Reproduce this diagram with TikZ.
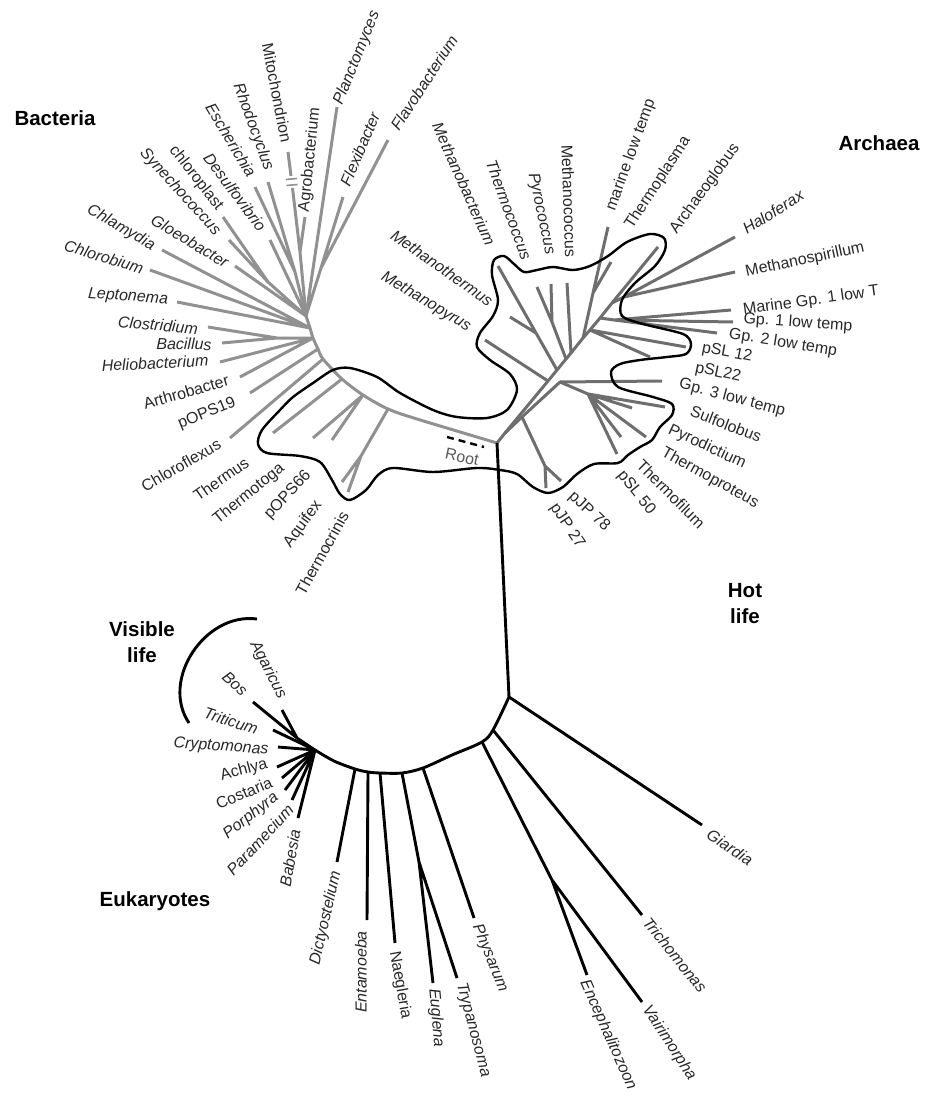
\documentclass[tikz,border=0pt]{standalone}
\usepackage{fontspec}
\setmainfont{Liberation Sans}
\usepackage{xcolor}
\usepackage{tikz}

\definecolor{bacgray}{RGB}{145,145,145}
\definecolor{arcgray}{RGB}{110,110,110}
\definecolor{labgray}{RGB}{40,40,40}

\begin{document}
\begin{tikzpicture}[
  x=1pt, y=-1pt,
  line join=round,
  every node/.style={inner sep=0pt, text=labgray, font=\fontsize{16}{18}\selectfont},
  it/.style={font=\fontsize{16}{18}\selectfont\itshape},
  bac/.style={draw=bacgray, line width=3pt},
  arch/.style={draw=arcgray, line width=3pt},
  euk/.style={draw=black, line width=2.9pt},
  lobe/.style={draw=black, line width=2.4pt},
  grp/.style={font=\fontsize{20.5}{26}\selectfont\bfseries, text=black, align=center}
]
  \useasboundingbox (0,0) rectangle (927,1115);

  % Root and trunk to the eukaryotes
  \coordinate (root) at (497,443);
  \coordinate (e0)   at (509,697);

  % Bacterial backbone
  \coordinate (b1) at (417,419);
  \coordinate (b2) at (388,409);
  \coordinate (b3) at (363,395);
  \coordinate (b4) at (342,379);
  \coordinate (b5) at (323,359);
  \coordinate (b6) at (318,349);
  \coordinate (b7) at (313,338);
  \coordinate (b8) at (310,328);
  \coordinate (btop) at (306,316);

  % Bacterial tips and forks
  \coordinate (tMito)  at (288,152);
  \coordinate (mito1)  at (291,176);
  \coordinate (mito2)  at (292.5,188);
  \coordinate (mbar1a) at (286,179.5);
  \coordinate (mbar1b) at (297,178.5);
  \coordinate (mbar2a) at (286.5,185.5);
  \coordinate (mbar2b) at (297.5,184.5);
  \coordinate (tAgro)  at (305,217);
  \coordinate (aj)     at (300,252);
  \coordinate (tRhodo) at (268,182);
  \coordinate (tEsch)  at (255,187);
  \coordinate (pj)     at (295,272);
  \coordinate (tDesulf) at (270,240);
  \coordinate (tChlpl) at (223,217);
  \coordinate (tSyn)   at (229,240);
  \coordinate (cj)     at (268,282);
  \coordinate (tGloeo) at (235,266);
  \coordinate (tChlam) at (162,250);
  \coordinate (tChlor) at (150,270);
  \coordinate (tLepto) at (177,302);
  \coordinate (tClost) at (208,327);
  \coordinate (tBacil) at (222,343);
  \coordinate (fj)     at (277,338);
  \coordinate (tHelio) at (220,362);
  \coordinate (tArthro) at (240,377);
  \coordinate (tPOPS19) at (250,393);
  \coordinate (tChlfx) at (230,438);
  \coordinate (tThermus) at (273,433);
  \coordinate (tTtoga) at (313,438);
  \coordinate (tPOPS66) at (332,440);
  \coordinate (aqj)    at (361,456);
  \coordinate (tAquif) at (342,482);
  \coordinate (tTcrin) at (348,492);
  \coordinate (tPlanc) at (337,107);
  \coordinate (tFlexi) at (343,197);
  \coordinate (tFlavo) at (388,140);
  \coordinate (fbj)    at (321,268);

  % Archaeal backbone
  \coordinate (a0) at (505,433);
  \coordinate (a2) at (548,381);
  \coordinate (a3) at (557,370);
  \coordinate (a4) at (566,359);
  \coordinate (a5) at (571,353);
  \coordinate (a6) at (583,338);
  \coordinate (a7) at (590,330);
  \coordinate (a8) at (600,318);
  \coordinate (a9) at (612,303);
  \coordinate (tAgb) at (658,247);

  % Archaeal tips and forks
  \coordinate (cs)     at (560,382);
  \coordinate (cs1)    at (522,417);
  \coordinate (pjj)    at (545,466);
  \coordinate (tPJP27) at (546,488);
  \coordinate (tPJP78) at (561,481);
  \coordinate (tMpyr)  at (485,340);
  \coordinate (tMbac)  at (498,266);
  \coordinate (mtj)    at (536,333);
  \coordinate (tMthm)  at (510,317);
  \coordinate (tcj)    at (552,322);
  \coordinate (tTcoc)  at (537,287);
  \coordinate (tPcoc)  at (551,284);
  \coordinate (tMcoc)  at (567,283);
  \coordinate (tMlt)   at (608,227);
  \coordinate (tpj)    at (593,293);
  \coordinate (tTpl)   at (611,262);
  \coordinate (tPSL12) at (686,347);
  \coordinate (tPSL22) at (650,357);
  \coordinate (gj)     at (614,320);
  \coordinate (tMG1)   at (731,310);
  \coordinate (tG1)    at (733,322);
  \coordinate (tG2)    at (717,333);
  \coordinate (hj)     at (624,297);
  \coordinate (tHalo)  at (735,237);
  \coordinate (tMspir) at (735,272);
  \coordinate (tGp3)   at (662,381);
  \coordinate (c1)     at (588,394);
  \coordinate (tSulf)  at (665,407);
  \coordinate (tPyrd)  at (632,408);
  \coordinate (tTprot) at (646,437);
  \coordinate (tTfil)  at (621,437);
  \coordinate (tPSL50) at (617,454);

  % Eukaryotic backbone
  \coordinate (e1) at (493,730);
  \coordinate (e2) at (482,742);
  \coordinate (e3) at (452,755);
  \coordinate (e4) at (423,768);
  \coordinate (e5) at (402,773);
  \coordinate (e6) at (380,773);
  \coordinate (e7) at (368,772);
  \coordinate (e8) at (355,769);
  \coordinate (e9) at (334,761);
  \coordinate (ehub) at (315,750);

  % Eukaryotic tips and forks
  \coordinate (tGiar)  at (702,825);
  \coordinate (tTrich) at (642,915);
  \coordinate (mj)     at (552,880);
  \coordinate (tEnc)   at (587,975);
  \coordinate (tVair)  at (642,1002);
  \coordinate (tPhys)  at (474,918);
  \coordinate (ej)     at (419,862);
  \coordinate (tEugl)  at (433,983);
  \coordinate (tTryp)  at (457,978);
  \coordinate (tNaeg)  at (395,943);
  \coordinate (tEnta)  at (367,920);
  \coordinate (tDicty) at (337,862);
  \coordinate (vj)     at (297,738);
  \coordinate (tBos)   at (253,702);
  \coordinate (tAgar)  at (282,710);
  \coordinate (tTrit)  at (273,730);
  \coordinate (tCrypt) at (278,747);
  \coordinate (tAchl)  at (277,767);
  \coordinate (tCost)  at (282,778);
  \coordinate (tPorph) at (285,790);
  \coordinate (tParam) at (292,800);
  \coordinate (tBabes) at (298,818);

  % Visible life bracket and root marker
  \coordinate (va1) at (257,619);
  \coordinate (vc1) at (205,612);
  \coordinate (vc2) at (160,680);
  \coordinate (va2) at (189,723);
  \coordinate (rd1) at (447,437);
  \coordinate (rd2) at (484,447);

  % Bacteria (light gray)
  \draw[bac] plot[smooth] coordinates {(root) (b1) (b2) (b3) (b4) (b5) (b6) (b7) (b8) (btop)};
  \draw[bac] (b2) -- (aqj) (aqj) -- (tAquif) (aqj) -- (tTcrin);
  \draw[bac] (b3) -- (tTtoga) (b3) -- (tPOPS66);
  \draw[bac] (b4) -- (tThermus);
  \draw[bac] (b5) -- (tChlfx);
  \draw[bac] (b6) -- (tPOPS19);
  \draw[bac] (b7) -- (tArthro) (b7) -- (tHelio) (b7) -- (fj) (fj) -- (tClost) (fj) -- (tBacil);
  \draw[bac] (b8) -- (tLepto) (b8) -- (tChlor) (b8) -- (tChlam);
  \draw[bac] (btop) -- (tGloeo) (btop) -- (cj) (cj) -- (tChlpl) (cj) -- (tSyn);
  \draw[bac] (btop) -- (tDesulf) (btop) -- (pj) (pj) -- (tEsch) (pj) -- (tRhodo);
  \draw[bac] (btop) -- (aj) (aj) -- (tAgro) (aj) -- (mito2) (mito1) -- (tMito);
  \draw[bac, line width=1.6pt] (mbar1a) -- (mbar1b) (mbar2a) -- (mbar2b);
  \draw[bac] (btop) -- (tPlanc) (btop) -- (fbj) (fbj) -- (tFlexi) (fbj) -- (tFlavo);

  % Archaea (darker gray)
  \draw[arch] (root) -- (a0) -- (a2) -- (a3) -- (a4) -- (a5) -- (a6) -- (a7) -- (a8) -- (a9) -- (tAgb);
  \draw[arch] (a0) -- (cs1) -- (cs) -- (c1);
  \draw[arch] (cs1) -- (pjj) (pjj) -- (tPJP27) (pjj) -- (tPJP78);
  \draw[arch] (cs) -- (tGp3);
  \draw[arch] (c1) -- (tSulf) (c1) -- (tPyrd) (c1) -- (tTprot) (c1) -- (tTfil) (c1) -- (tPSL50);
  \draw[arch] (a2) -- (tMpyr);
  \draw[arch] (a3) -- (mtj) -- (tMbac) (mtj) -- (tMthm);
  \draw[arch] (a4) -- (tcj) (tcj) -- (tTcoc) (tcj) -- (tPcoc);
  \draw[arch] (a5) -- (tMcoc);
  \draw[arch] (a6) -- (tpj) -- (tMlt) (tpj) -- (tTpl);
  \draw[arch] (a7) -- (tPSL12) (a7) -- (tPSL22);
  \draw[arch] (a8) -- (gj) (gj) -- (tMG1) (gj) -- (tG1) (gj) -- (tG2);
  \draw[arch] (a9) -- (hj) (hj) -- (tHalo) (hj) -- (tMspir);

  % Trunk and eukaryotes (black)
  \draw[euk] (root) -- (e0);
  \draw[euk] plot[smooth] coordinates {(e0) (e1) (e2) (e3) (e4) (e5) (e6) (e7) (e8) (e9) (ehub)};
  \draw[euk] (e0) -- (tGiar);
  \draw[euk] (e1) -- (tTrich);
  \draw[euk] (e2) -- (mj) (mj) -- (tEnc) (mj) -- (tVair);
  \draw[euk] (e4) -- (tPhys);
  \draw[euk] (e5) -- (ej) (ej) -- (tEugl) (ej) -- (tTryp);
  \draw[euk] (e6) -- (tNaeg);
  \draw[euk] (e7) -- (tEnta);
  \draw[euk] (e8) -- (tDicty);
  \draw[euk] (ehub) -- (vj) (vj) -- (tBos) (vj) -- (tAgar);
  \draw[euk] (ehub) -- (tTrit) (ehub) -- (tCrypt) (ehub) -- (tAchl) (ehub) -- (tCost);
  \draw[euk] (ehub) -- (tPorph) (ehub) -- (tParam) (ehub) -- (tBabes);
  \draw[euk] (va1) .. controls (vc1) and (vc2) .. (va2);

  % Hot life outline
  \draw[lobe] plot[smooth cycle] coordinates {
    (313,383) (333,370) (350,368) (377,377) (400,393) (433,410) (457,417)
    (487,418) (507,410) (517,390) (510,374) (490,360) (477,347) (480,333)
    (493,316) (498,300) (492,275) (494,260) (504,256) (514,264) (524,272)
    (537,270) (553,267) (573,270) (590,266) (608,256) (627,242) (650,234)
    (664,238) (665,250) (655,266) (635,283) (622,300) (622,316) (643,324)
    (683,334) (691,344) (686,354) (667,357) (640,360) (620,364) (611,372)
    (618,387) (653,397) (672,404) (672,415) (660,427) (652,440) (640,447)
    (628,455) (618,463) (594,464) (577,474) (563,487) (548,493) (533,487)
    (517,474) (500,470) (477,468) (433,472) (393,468) (378,475) (366,490)
    (350,500) (340,494) (332,480) (320,462) (300,456) (267,453) (258,444)
    (262,430) (280,410) (293,397)};

  % Root
  \draw[black, line width=2.4pt, dash pattern=on 7pt off 5pt] (rd1) -- (rd2);
  \node[rotate=-12, text=black!65] (lRoot) at (462,457) {Root};

  % Group labels
  \node[grp] (lBact) at (55,118) {Bacteria};
  \node[grp] (lArch) at (879,143) {Archaea};
  \node[grp] (lHot)  at (745,604) {Hot\\life};
  \node[grp] (lVis)  at (142,642) {Visible\\life};
  \node[grp] (lEuk)  at (155,901) {Eukaryotes};

  % Bacteria labels
  \node[rotate=-79] (lMito) at (277,93) {Mitochondrion};
  \node[it, rotate=-70] (lRhodo) at (253,127) {Rhodocyclus};
  \node[it, rotate=-59] (lEsch) at (231,140) {Escherichia};
  \node[it, rotate=-53] (lDesulf) at (235,192) {Desulfovibrio};
  \node[rotate=-52] (lChlpl) at (196,178) {chloroplast};
  \node[it, rotate=-48] (lSyn) at (180,192) {Synechococcus};
  \node[it, rotate=-31] (lGloeo) at (190,241) {Gloeobacter};
  \node[it, rotate=-30] (lChlam) at (121,228) {Chlamydia};
  \node[it, rotate=-17] (lChlor) at (104,257) {Chlorobium};
  \node[it, rotate=-4] (lLepto) at (128,297) {Leptonema};
  \node[it, rotate=-5] (lClost) at (158,325) {Clostridium};
  \node[it, rotate=-1] (lBacil) at (184,344) {Bacillus};
  \node[it, rotate=3] (lHelio) at (155,363) {Heliobacterium};
  \node[rotate=16] (lArthro) at (186,392) {Arthrobacter};
  \node[rotate=22] (lPOPS19) at (207,414) {pOPS19};
  \node[rotate=30] (lChlfx) at (181,465) {Chloroflexus};
  \node[rotate=35] (lThermus) at (221,479) {Thermus};
  \node[rotate=39] (lTtoga) at (249,494) {Thermotoga};
  \node[rotate=47] (lPOPS66) at (288,495) {pOPS66};
  \node[rotate=54] (lAquif) at (303,524) {Aquifex};
  \node[rotate=61] (lTcrin) at (322,553) {Thermocrinis};
  \node[rotate=84] (lAgro) at (310,160) {Agrobacterium};
  \node[it, rotate=68] (lPlanc) at (357,58) {Planctomyces};
  \node[it, rotate=67] (lFlexi) at (360,149) {Flexibacter};
  \node[it, rotate=57] (lFlavo) at (424,83) {Flavobacterium};

  % Archaea labels
  \node[it, rotate=-66] (lMbac) at (464,184) {Methanobacterium};
  \node[it, rotate=-70] (lTcoc) at (509,210) {Thermococcus};
  \node[it, rotate=-78] (lPcoc) at (541,214) {Pyrococcus};
  \node[rotate=-88] (lMcoc) at (569,201) {Methanococcus};
  \node[it, rotate=-35] (lMthm) at (442,268) {Methanothermus};
  \node[it, rotate=-31] (lMpyr) at (426,302) {Methanopyrus};
  \node[rotate=70] (lMlt) at (631,155) {marine low temp};
  \node[rotate=57] (lTpl) at (658,183) {Thermoplasma};
  \node[rotate=54] (lAgb) at (705,189) {Archaeoglobus};
  \node[it, rotate=32] (lHalo) at (773,212) {Haloferax};
  \node[rotate=12] (lMspir) at (805,260) {Methanospirillum};
  \node[rotate=8] (lMG1) at (811,301) {Marine Gp. 1 low T};
  \node[rotate=-4] (lG1) at (798,323) {Gp. 1 low temp};
  \node[rotate=-9] (lG2) at (783,343) {Gp. 2 low temp};
  \node[rotate=-11] (lPSL12) at (727,353) {pSL 12};
  \node[rotate=-12] (lPSL22) at (718,373) {pSL22};
  \node[rotate=-15] (lGp3) at (732,398) {Gp. 3 low temp};
  \node[rotate=-21] (lSulf) at (726,424) {Sulfolobus};
  \node[rotate=-25] (lPyrd) at (707,447) {Pyrodictium};
  \node[rotate=-29] (lTprot) at (710,478) {Thermoproteus};
  \node[rotate=-45] (lTfil) at (671,494) {Thermofilum};
  \node[rotate=-51] (lPSL50) at (636,493) {pSL 50};
  \node[rotate=-43] (lPJP78) at (589,512) {pJP 78};
  \node[rotate=-56] (lPJP27) at (567,526) {pJP 27};

  % Eukaryote labels
  \node[it, rotate=-63] (lAgar) at (268,670) {Agaricus};
  \node[it, rotate=-43] (lBos) at (235,684) {Bos};
  \node[it, rotate=-18] (lTrit) at (231,721) {Triticum};
  \node[it, rotate=-4] (lCrypt) at (221,747) {Cryptomonas};
  \node[rotate=15] (lAchl) at (244,770) {Achlya};
  \node[rotate=23] (lCost) at (244,793) {Costaria};
  \node[it, rotate=38] (lPorph) at (251,816) {Porphyra};
  \node[it, rotate=47] (lParam) at (260,840) {Paramecium};
  \node[it, rotate=80] (lBabes) at (290,858) {Babesia};
  \node[it, rotate=77] (lDicty) at (326,918) {Dictyostelium};
  \node[it, rotate=90] (lEnta) at (361,972) {Entamoeba};
  \node[rotate=-80] (lNaeg) at (400,985) {Naegleria};
  \node[it, rotate=-85] (lEugl) at (436,1018) {Euglena};
  \node[it, rotate=-75] (lTryp) at (473,1030) {Trypanosoma};
  \node[it, rotate=-68] (lPhys) at (490,958) {Physarum};
  \node[it, rotate=-66] (lEnc) at (608,1035) {Encephalitozoon};
  \node[it, rotate=-57] (lVair) at (669,1043) {Vairimorpha};
  \node[it, rotate=-51] (lTrich) at (675,955) {Trichomonas};
  \node[it, rotate=-34] (lGiar) at (730,847) {Giardia};
\end{tikzpicture}
\end{document}
